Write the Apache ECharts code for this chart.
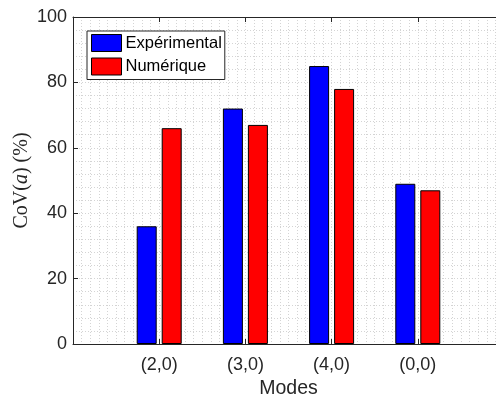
<!DOCTYPE html>
<html>
<head>
<meta charset="utf-8">
<script src="https://cdn.jsdelivr.net/npm/echarts@6/dist/echarts.min.js"></script>
<style>html,body{margin:0;padding:0;background:#fff;}#c{width:496px;height:401px;}</style>
</head>
<body>
<div id="c"></div>
<script>
var categories = ['(2,0)', '(3,0)', '(4,0)', '(0,0)'];
var experimental = [36, 72, 85, 49];
var numerique = [66, 67, 78, 47];
var yTicks = [0, 20, 40, 60, 80, 100];

function toPoints(vals) {
  return vals.map(function (v, i) { return [i + 1, v]; });
}

var chart = echarts.init(document.getElementById('c'), null, {renderer: 'canvas'});
var axisColor = '#262626';
var gridLine = {show: true, lineStyle: {color: '#d4d4d4', type: [1, 2], width: 1}};
chart.setOption({
  animation: false,
  backgroundColor: '#fff',
  grid: {left: 73, top: 17, bottom: 57, right: -8, containLabel: false, outerBoundsMode: 'none', show: false},
  legend: {
    orient: 'vertical', left: 87, top: 31, icon: 'rect',
    itemWidth: 30, itemHeight: 17, itemGap: 5.5,
    padding: [3, 3, 4, 4],
    borderColor: axisColor, borderWidth: 1, backgroundColor: '#fff',
    textStyle: {fontFamily: 'Liberation Sans', fontSize: 16.5, color: '#000', padding: [0, 0, 0, -1]},
    itemStyle: {borderColor: '#000', borderWidth: 1},
    data: ['Expérimental', 'Numérique']
  },
  xAxis: [{
    type: 'value', position: 'bottom', min: 0, max: 5, interval: 1,
    name: 'Modes', nameLocation: 'middle', nameGap: 35,
    nameTextStyle: {fontFamily: 'Liberation Sans', fontSize: 19.5, color: axisColor},
    axisLine: {show: true, lineStyle: {color: axisColor, width: 1}},
    axisTick: {show: true, inside: true, length: 5, lineStyle: {color: axisColor}},
    axisLabel: {
      margin: 12, fontFamily: 'Liberation Sans', fontSize: 18, color: axisColor,
      formatter: function (v) { return (v >= 1 && v <= categories.length) ? categories[v - 1] : ''; }
    },
    splitLine: gridLine,
    minorTick: {show: false, splitNumber: 10},
    minorSplitLine: gridLine
  }, {
    type: 'value', position: 'top', min: 0, max: 5, interval: 1,
    axisLine: {show: true, lineStyle: {color: axisColor, width: 1}},
    axisTick: {show: true, inside: true, length: 5, lineStyle: {color: axisColor}},
    axisLabel: {show: false},
    splitLine: {show: false}
  }],
  yAxis: {
    type: 'value', min: yTicks[0], max: yTicks[yTicks.length - 1], interval: 20,
    name: 'CoV({i|a}) (%)', nameLocation: 'middle', nameGap: 41, nameRotate: 90,
    nameMoveOverlap: false,
    nameTextStyle: {fontFamily: 'Liberation Serif', fontSize: 20, color: axisColor,
      rich: {i: {fontFamily: 'Liberation Serif', fontStyle: 'italic', fontSize: 20, color: axisColor}}},
    axisLine: {show: true, lineStyle: {color: axisColor, width: 1}},
    axisTick: {show: true, inside: true, length: 5, lineStyle: {color: axisColor}},
    axisLabel: {margin: 6, fontFamily: 'Liberation Sans', fontSize: 18, color: axisColor},
    splitLine: gridLine,
    minorTick: {show: false, splitNumber: 5},
    minorSplitLine: gridLine
  },
  series: [{
    name: 'Expérimental', type: 'bar', xAxisIndex: 0,
    data: toPoints(experimental), barWidth: 20, barGap: '25%',
    itemStyle: {color: '#0000ff', borderColor: '#000', borderWidth: 1}
  }, {
    name: 'Numérique', type: 'bar', xAxisIndex: 0,
    data: toPoints(numerique), barWidth: 20, barGap: '25%',
    itemStyle: {color: '#ff0000', borderColor: '#000', borderWidth: 1}
  }]
});
</script>
</body>
</html>
